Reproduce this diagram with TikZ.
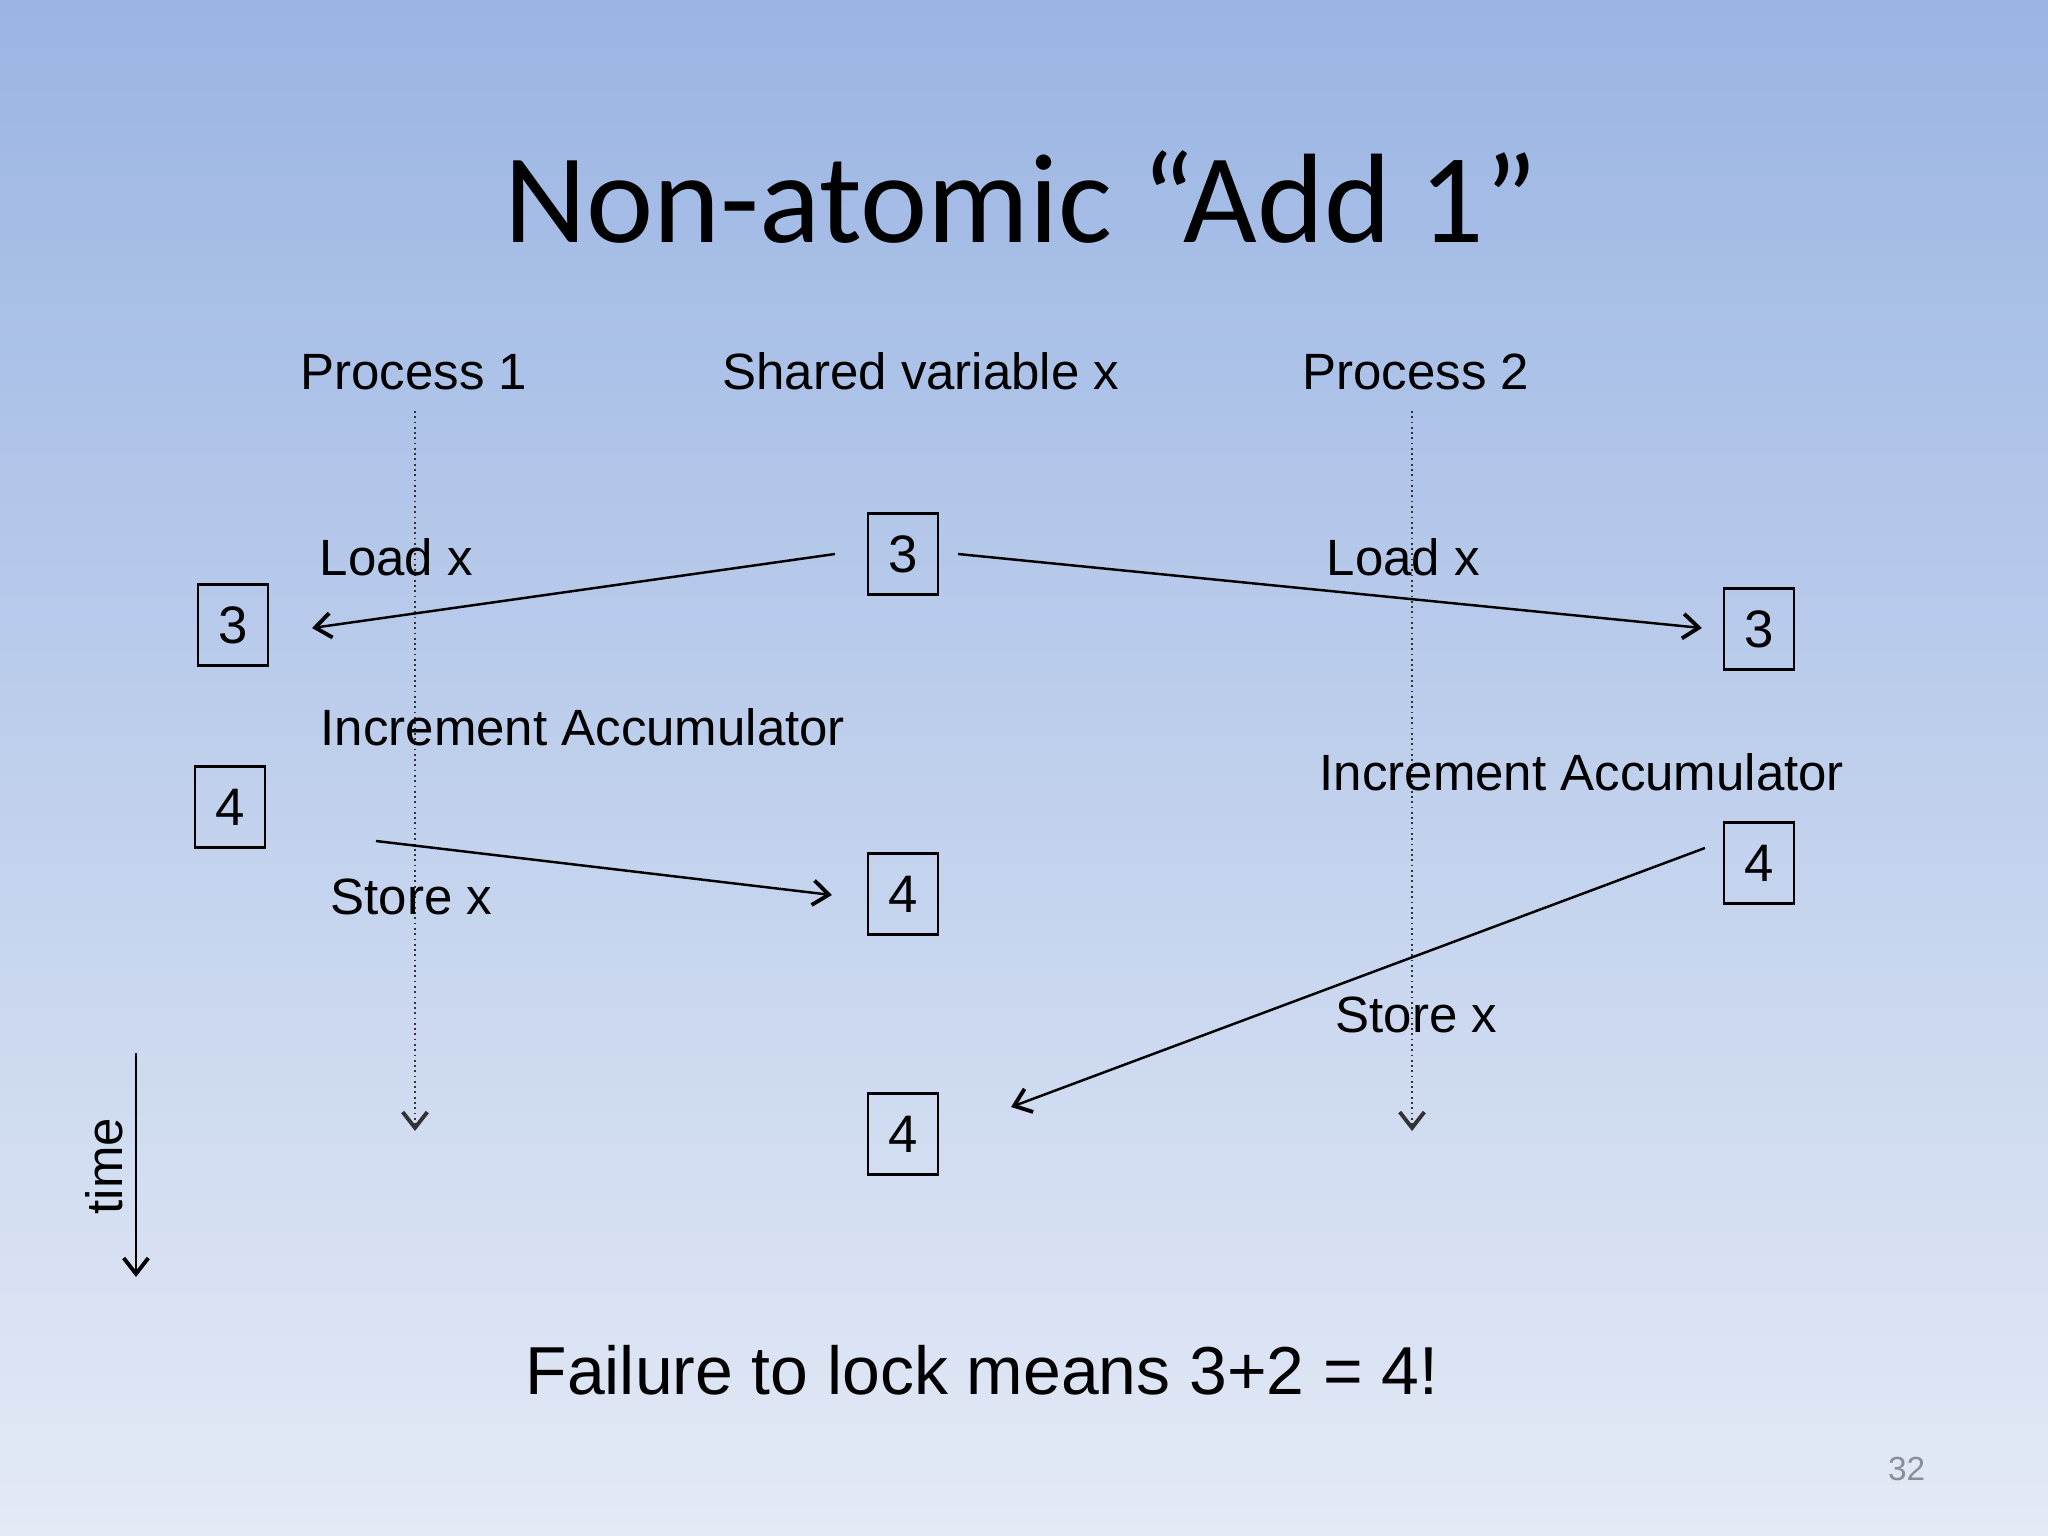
\documentclass[tikz,border=0pt]{standalone}
\usepackage{fontspec}
\setmainfont{Liberation Sans}
\newfontfamily\titlefont{Carlito}
\usetikzlibrary{arrows.meta,calc}
\definecolor{bgtop}{RGB}{154,181,227}
\definecolor{bgbot}{RGB}{228,234,246}
\definecolor{pagenum}{RGB}{137,142,152}
\begin{document}
\begin{tikzpicture}[x=0.01cm,y=-0.01cm,
  valbox/.style={draw=black,line width=0.6pt,minimum width=0.7cm,minimum height=0.81cm,inner sep=0pt,font=\fontsize{15}{18}\selectfont},
  lbl/.style={anchor=base west,inner sep=0pt,font=\fontsize{14.5}{17}\selectfont},
  hdr/.style={anchor=base,inner sep=0pt,font=\fontsize{14.5}{17}\selectfont},
  flow/.style={line width=0.7pt,-{Straight Barb[length=4.5pt,width=7pt,line width=1.1pt]}},
  lifeline/.style={line width=0.5pt,densely dotted,draw=black!80,-{Straight Barb[length=4.5pt,width=7pt,line width=1.1pt]}}
]
\shade[top color=bgtop,bottom color=bgbot] (0,0) rectangle (2048,1536);
\useasboundingbox (0,0) rectangle (2048,1536);

% title
\node[anchor=base,inner sep=0pt,font=\titlefont\fontsize{36.2}{42}\selectfont] (title) at (1021,242) {Non-atomic “Add 1”};

% headers
\node[hdr] (p1) at (414,389) {Process 1};
\node[hdr] (sv) at (921,389) {Shared variable x};
\node[hdr] (p2) at (1416,389) {Process 2};

% lifelines
\coordinate (l1top) at (415,411);
\coordinate (l1bot) at (415,1131);
\coordinate (l2top) at (1412,411);
\coordinate (l2bot) at (1412,1131);
\draw[lifeline] (l1top) -- (l1bot);
\draw[lifeline] (l2top) -- (l2bot);

% boxes
\node[valbox] (s3) at (903,554) {3};
\node[valbox] (a3) at (233,625) {3};
\node[valbox] (b3) at (1759,629) {3};
\node[valbox] (a4) at (230,807) {4};
\node[valbox] (s4a) at (903,894) {4};
\node[valbox] (b4) at (1759,863) {4};
\node[valbox] (s4b) at (903,1134) {4};

% labels
\node[lbl] (la1) at (319,575) {Load x};
\node[lbl] (ia1) at (320,745) {Increment Accumulator};
\node[lbl] (st1) at (330,914) {Store x};
\node[lbl] (la2) at (1326,575) {Load x};
\node[lbl] (ia2) at (1319,790) {Increment Accumulator};
\node[lbl] (st2) at (1335,1032) {Store x};

% arrows
\coordinate (s3l) at ($(s3.west)+(-32,0)$);
\coordinate (a3r) at ($(a3.east)+(43,3)$);
\draw[flow] (s3l) -- (a3r);
\coordinate (s3r) at ($(s3.east)+(19,0)$);
\coordinate (b3l) at ($(b3.west)+(-21,-1)$);
\draw[flow] (s3r) -- (b3l);
\coordinate (st1s) at (376,841);
\coordinate (s4al) at ($(s4a.west)+(-35,1)$);
\draw[flow] (st1s) -- (s4al);
\coordinate (b4l) at ($(b4.west)+(-18,-15)$);
\coordinate (s4br) at ($(s4b.east)+(72,-27)$);
\draw[flow] (b4l) -- (s4br);

% time axis
\coordinate (ttop) at (136,1053);
\coordinate (tbot) at (136,1277);
\draw[flow] (ttop) -- (tbot);
\node[anchor=base,rotate=90,inner sep=0pt,font=\fontsize{14.5}{17}\selectfont] (time) at (122,1166) {time};

% conclusion
\node[anchor=base west,inner sep=0pt,font=\fontsize{19.3}{23}\selectfont] (concl) at (525,1394) {Failure to lock means 3+2 = 4!};

% page number
\node[anchor=base east,inner sep=0pt,text=pagenum,font=\fontsize{9.5}{11}\selectfont] (pg) at (1926,1480) {32};
\end{tikzpicture}
\end{document}
